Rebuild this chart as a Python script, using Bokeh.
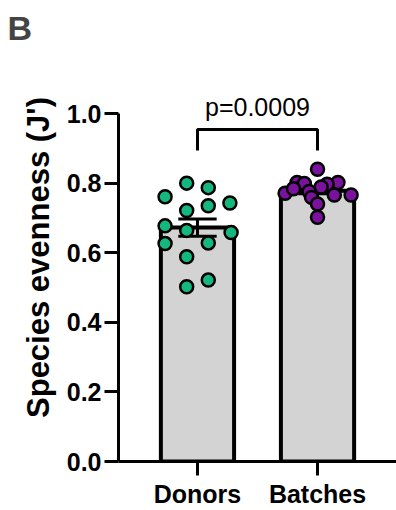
import numpy as np
from bokeh.plotting import figure
from bokeh.models import FixedTicker, PrintfTickFormatter, Range1d
from bokeh.core.properties import value
from bokeh.embed import file_html
from bokeh.resources import INLINE

# ---- data ----
categories = ["Donors", "Batches"]
donors = [0.801, 0.788, 0.762, 0.744, 0.736, 0.722, 0.678, 0.665, 0.659,
          0.627, 0.629, 0.589, 0.522, 0.503]
donors_jitter = [-0.09, 0.09, -0.27, 0.27, 0.09, -0.09, -0.27, -0.09, 0.28,
                 -0.27, 0.09, -0.09, 0.09, -0.09]
batches = [0.841, 0.803, 0.800, 0.803, 0.798, 0.790, 0.772, 0.777, 0.767,
           0.767, 0.760, 0.741, 0.703, 0.785]
batches_jitter = [0.0, -0.17, -0.11, 0.17, 0.08, 0.03, -0.27, -0.07, 0.14,
                  0.28, -0.05, 0.0, 0.0, -0.20]
y_ticks = [0.0, 0.2, 0.4, 0.6, 0.8, 1.0]
p_label = "p=0.0009"

FONT = "Liberation Sans"
groups = [np.array(donors), np.array(batches)]
means = [g.mean() for g in groups]
sems = [g.std(ddof=1) / np.sqrt(len(g)) for g in groups]
xs = [0, 1]

p = figure(width=396, height=510, output_backend="svg", toolbar_location=None,
           x_range=Range1d(-0.658, 1.658), y_range=Range1d(0, 1.174),
           min_border_left=118, min_border_right=0, min_border_top=52,
           min_border_bottom=44)
p.title.text = "B"
p.title.text_font = FONT
p.title.text_font_size = "34px"
p.title.text_font_style = "bold"
p.title.align = "left"
p.title.offset = -111
p.title.standoff = 13

p.xgrid.visible = False
p.ygrid.visible = False
p.outline_line_color = None

# bars
p.vbar(x=xs, top=means, width=0.61, bottom=0, fill_color="#d3d3d3",
       line_color="black", line_width=4)

# error bars
for x, m, s in zip(xs, means, sems):
    p.segment(x0=[x], y0=[m - s], x1=[x], y1=[m + s], line_color="black", line_width=3)
    p.segment(x0=[x - 0.16, x - 0.16], y0=[m - s, m + s],
              x1=[x + 0.16, x + 0.16], y1=[m - s, m + s],
              line_color="black", line_width=3)

# points
p.scatter(x=[xs[0] + j for j in donors_jitter], y=donors, size=13,
          fill_color="#14b87f", line_color="black", line_width=2.5)
p.scatter(x=[xs[1] + j for j in batches_jitter], y=batches, size=13,
          fill_color="#7a129e", line_color="black", line_width=2.5)

# significance bracket
by, bd = 0.955, 0.06
p.line(x=[xs[0], xs[0], xs[1], xs[1]], y=[by - bd, by, by, by - bd],
       line_color="black", line_width=3)
p.text(x=[(xs[0] + xs[1]) / 2], y=[by + 0.065], text=[p_label],
       text_align="center", text_baseline="alphabetic",
       text_font=value(FONT), text_font_size="25px", text_color="black")

# axes
p.yaxis.ticker = FixedTicker(ticks=y_ticks)
p.yaxis.formatter = PrintfTickFormatter(format="%.1f")
p.yaxis.bounds = (0, 1.0)
p.yaxis.axis_label = "Species evenness (J')"
p.yaxis.axis_label_text_font = FONT
p.yaxis.axis_label_text_font_size = "31px"
p.yaxis.axis_label_text_font_style = "bold"
p.yaxis.axis_label_text_color = "black"
p.yaxis.axis_label_standoff = 8

p.xaxis.ticker = FixedTicker(ticks=xs)
p.xaxis.major_label_overrides = {0: categories[0], 1: categories[1]}

for ax in (p.xaxis, p.yaxis):
    ax.axis_line_width = 3
    ax.axis_line_color = "black"
    ax.major_tick_line_width = 3
    ax.major_tick_out = 14
    ax.major_tick_in = 0
    ax.minor_tick_line_color = None
    ax.major_label_text_font = FONT
    ax.major_label_text_font_size = "25px"
    ax.major_label_text_font_style = "bold"
    ax.major_label_text_color = "black"
p.yaxis.major_label_standoff = 3
p.xaxis.major_label_standoff = 4

open("out.html", "w").write(file_html(p, INLINE))
